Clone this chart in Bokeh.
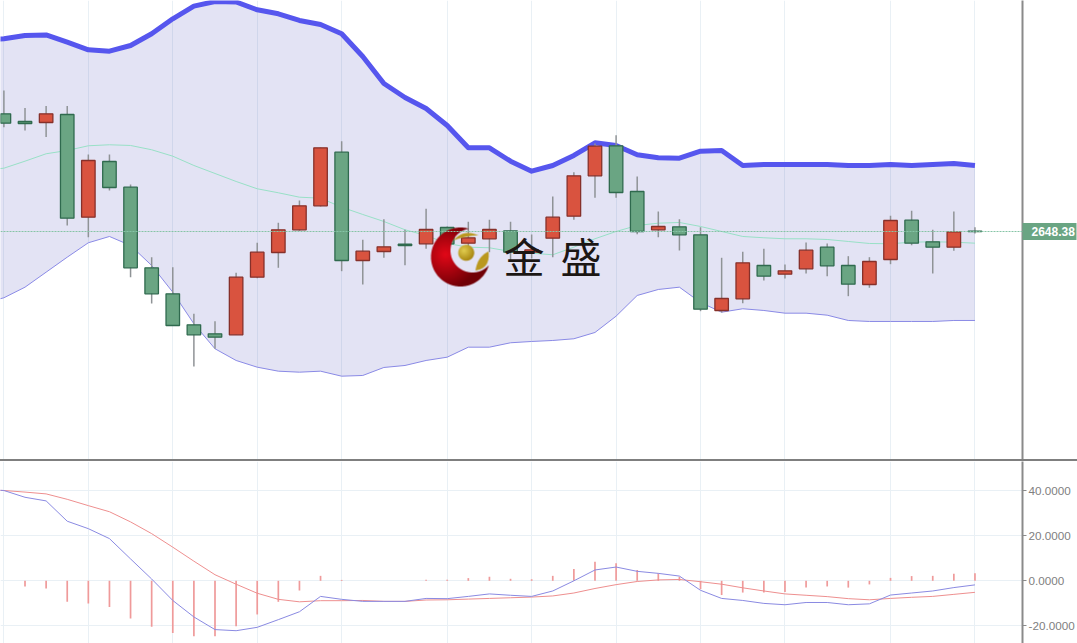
import numpy as np
from bokeh.embed import file_html
from bokeh.resources import INLINE
from bokeh.layouts import column
from bokeh.models import (ColumnDataSource, FixedTicker, LinearAxis, NumeralTickFormatter,
                          Range1d, Span)
from bokeh.plotting import figure

candle_index = list(range(47))
band_index = list(range(-1, 47))
open_ = [2766.1,2758.4,2757.4,2765.4,2662.7,2718.4,2692.7,2612.1,2586.1,2555.1,2546.1,2545.1,2602.7,2627.4,2650.1,2674.1,2727.7,2619.4,2628.4,2635.7,2636.1,2652.4,2636.7,2641.1,2649.1,2627.7,2641.7,2663.7,2704.1,2734.1,2688.4,2650.1,2653.1,2645.1,2569.4,2581.1,2614.4,2605.7,2611.1,2632.7,2614.4,2595.4,2620.4,2659.7,2638.1,2632.7,2648.8]
high = [2789.4,2771.9,2773.9,2773.9,2725.4,2725.4,2695.4,2622.7,2612.7,2566.1,2558.7,2607.1,2637.1,2657.1,2679.4,2732.4,2738.7,2640.1,2660.7,2650.1,2671.1,2653.4,2658.1,2660.1,2658.1,2645.4,2683.4,2707.7,2736.4,2744.7,2703.4,2668.4,2660.7,2652.7,2622.1,2628.1,2631.1,2615.4,2637.4,2636.4,2623.7,2622.7,2664.1,2669.1,2650.1,2668.4,2652.7]
low = [2752.7,2749.4,2742.9,2654.4,2642.7,2689.4,2602.7,2576.4,2554.4,2513.4,2531.1,2545.1,2601.7,2612.1,2649.1,2673.4,2608.7,2595.4,2622.1,2614.7,2631.1,2632.4,2623.4,2627.7,2619.4,2621.4,2622.7,2660.1,2682.1,2682.1,2645.7,2642.7,2629.4,2568.7,2567.4,2576.7,2599.4,2601.4,2606.4,2603.7,2583.7,2592.1,2615.7,2634.7,2606.4,2629.1,2646.4]
close = [2756.7,2756.4,2766.1,2661.7,2719.4,2692.4,2612.1,2586.1,2554.4,2545.1,2542.7,2602.7,2627.7,2650.1,2674.1,2732.1,2619.4,2628.7,2633.1,2634.4,2650.4,2636.1,2642.1,2650.4,2627.7,2630.1,2662.7,2704.1,2733.7,2687.4,2648.4,2653.4,2645.1,2570.7,2581.4,2617.1,2603.7,2609.1,2629.7,2614.1,2595.7,2618.4,2659.4,2636.7,2632.7,2648.1,2648.38]
upper = [2839.4,2841.1,2844.4,2844.9,2837.7,2830.1,2828.7,2834.4,2846.1,2861.1,2873.7,2878.4,2877.9,2870.1,2866.1,2859.4,2855.4,2846.1,2823.4,2796.4,2782.4,2771.4,2754.4,2732.1,2732.1,2718.7,2708.7,2714.4,2724.4,2737.1,2734.4,2725.1,2722.1,2721.7,2728.7,2729.4,2714.4,2715.4,2715.4,2715.4,2715.4,2714.4,2714.4,2715.4,2714.4,2715.4,2716.4,2714.4]
middle = [2709.4,2711.7,2718.7,2726.1,2729.4,2734.1,2735.1,2734.4,2730.1,2723.7,2714.4,2706.4,2698.4,2691.1,2687.1,2682.7,2681.7,2672.7,2665.4,2658.4,2650.1,2644.4,2636.4,2632.7,2632.1,2628.4,2626.7,2625.1,2632.7,2641.1,2648.4,2654.4,2656.7,2657.4,2653.4,2648.4,2643.4,2642.1,2641.1,2641.1,2640.4,2638.4,2636.4,2636.1,2637.7,2638.1,2637.7,2636.7]
lower = [2576.4,2582.1,2592.7,2607.7,2622.7,2637.1,2643.4,2634.4,2614.4,2587.7,2556.1,2531.1,2519.4,2512.7,2508.7,2507.7,2508.7,2503.7,2504.4,2512.4,2514.4,2519.4,2522.7,2532.7,2532.7,2537.1,2538.4,2539.4,2541.1,2547.4,2563.7,2584.4,2590.4,2592.7,2577.4,2567.7,2571.1,2569.4,2566.7,2566.7,2564.7,2559.4,2558.4,2558.4,2558.4,2558.4,2559.4,2559.4]
dif = [40.6,40.0,37.0,35.4,26.4,23.1,18.7,9.7,0.8,-8.7,-16.0,-21.6,-22.1,-20.6,-17.2,-13.7,-6.9,-8.2,-9.1,-9.1,-9.1,-7.8,-7.9,-6.9,-5.8,-6.4,-6.9,-4.5,0.0,4.8,6.1,4.2,3.3,2.1,-4.2,-7.8,-8.7,-10.0,-10.6,-9.6,-9.6,-10.6,-10.2,-6.3,-5.4,-4.5,-3.0,-1.8]
dea = [40.2,40.0,39.3,38.5,36.1,33.3,30.6,26.1,20.9,14.9,8.7,2.7,-1.5,-5.5,-8.2,-9.3,-8.8,-8.8,-8.7,-9.1,-9.1,-8.5,-8.4,-8.1,-7.8,-7.5,-7.2,-6.7,-5.4,-3.4,-1.7,-0.3,0.4,0.6,-0.4,-1.5,-3.1,-4.5,-5.8,-6.4,-7.0,-7.9,-8.4,-7.8,-7.3,-6.9,-6.0,-5.1]
hist = [0.0,-2.5,-3.4,-9.3,-10.1,-11.6,-16.7,-20.4,-23.1,-24.6,-24.6,-20.1,-14.9,-9.3,-4.3,2.2,0.4,0.0,0.0,0.0,0.5,0.5,1.2,1.8,0.9,0.7,2.2,5.2,8.5,7.8,4.8,3.3,1.8,-3.7,-6.3,-5.2,-5.2,-4.9,-3.0,-2.5,-3.0,-1.6,1.3,2.1,2.2,3.1,3.4]
grid_index = [0, 4, 8, 12, 16, 21, 25, 29, 33, 37, 42, 46]
macd_ticks = [40, 20, 0, -20]
last_price = 2648.38
last_label = "2648.38"

FW = 1022
PX0, PXS = 3.4, 21.11
X_RANGE = ((0 - PX0) / PXS, (FW - PX0) / PXS)
TOP = 2879.38
px = lambda a: (np.asarray(a, float) - PX0) / PXS
py = lambda a: TOP - np.asarray(a, float)

GREEN, RED = "#6aa583", "#d9533f"
GREEN_E, RED_E = "#2f6a4e", "#86302a"
AXIS = "#8a8a8a"
GRID = "#e9f0f5"

p1 = figure(frame_width=FW, frame_height=459, output_backend="svg", toolbar_location=None,
            x_range=Range1d(*X_RANGE), y_range=Range1d(TOP - 459, TOP),
            x_axis_location=None, y_axis_location=None,
            min_border_left=0, min_border_right=55, min_border_top=0, min_border_bottom=0,
            outline_line_color=None)
p1.xgrid.ticker = FixedTicker(ticks=grid_index)
p1.xgrid.grid_line_color = GRID
p1.ygrid.visible = False
# the last-price tag: one thick, long tick makes the green plate under its label
ax1 = LinearAxis(ticker=FixedTicker(ticks=[last_price]), major_label_overrides={last_price: last_label},
                 axis_line_color=AXIS, axis_line_width=2,
                 major_tick_line_color=GREEN, major_tick_line_width=17, major_tick_line_cap="butt",
                 major_tick_out=54, major_tick_in=0, minor_tick_line_color=None,
                 major_label_standoff=-45, major_label_text_color="#ffffff",
                 major_label_text_font="Liberation Sans", major_label_text_font_style="bold",
                 major_label_text_font_size="12px")
p1.add_layout(ax1, "right")

p1.varea(x=band_index, y1=lower, y2=upper, fill_color="#3c3cb4", fill_alpha=0.14)
p1.line(band_index, middle, line_color="#98e0c6", line_width=1)
p1.line(band_index, lower, line_color="#8a8ae6", line_width=1)
p1.line(band_index, upper, line_color="#5656ee", line_width=5, line_join="round")
p1.add_layout(Span(location=last_price, dimension="width", line_color="#86c4a6", line_width=1, line_dash="2 1"))

up = [c >= o for o, c in zip(open_, close)]
src = ColumnDataSource(dict(
    x=candle_index, high=high, low=low,
    top=[max(o, c) for o, c in zip(open_, close)],
    bottom=[min(o, c) for o, c in zip(open_, close)],
    fill=[RED if u else GREEN for u in up],
    edge=[RED_E if u else GREEN_E for u in up],
))
p1.segment("x", "high", "x", "low", source=src, line_color="#8f9396", line_width=1.5)
p1.vbar("x", 0.64, "top", "bottom", source=src, fill_color="fill", line_color="edge", line_width=1.3)


# watermark logo: crescent, ball and two leaves, antialiased by supersampling
def in_poly(X, Y, pts):
    inside = np.zeros_like(X, dtype=bool)
    n = len(pts)
    for a in range(n):
        x1, y1 = pts[a]
        x2, y2 = pts[(a + 1) % n]
        cond = (y1 > Y) != (y2 > Y)
        inside ^= cond & (X < (x2 - x1) * (Y - y1) / (y2 - y1 + 1e-12) + x1)
    return inside


def leaf(a, c1, b, c2):
    u = np.linspace(0, 1, 24)[:, None]
    a, b, c1, c2 = map(np.array, (a, b, c1, c2))
    e1 = (1 - u) ** 2 * a + 2 * u * (1 - u) * c1 + u ** 2 * b
    e2 = (1 - u) ** 2 * b + 2 * u * (1 - u) * c2 + u ** 2 * a
    return np.vstack([e1, e2])


L0, T0, LW, LH, SS = 428, 225, 64, 64, 4
gx = L0 + (np.arange(LW * SS) + 0.5) / SS
gy = T0 + (np.arange(LH * SS) + 0.5) / SS
X, Y = np.meshgrid(gx, gy)
rgba = np.zeros(X.shape + (4,), float)
crescent = ((X - 460) ** 2 + (Y - 256.5) ** 2 <= 29.5 ** 2) & ((X - 472) ** 2 + (Y - 250) ** 2 >= 22 ** 2)
d = np.clip(np.hypot(X - 445, Y - 254) / 34, 0, 1)[..., None]
rgba[crescent] = (np.array([226, 8, 24, 255.0]) * (1 - d) + np.array([112, 0, 6, 255.0]) * d)[crescent]
ball = (X - 465.7) ** 2 + (Y - 252.3) ** 2 <= 8 ** 2
db = np.clip(np.hypot(X - 463.5, Y - 250) / 11, 0, 1)[..., None]
rgba[ball] = (np.array([226, 205, 80, 255.0]) * (1 - db) + np.array([166, 132, 14, 255.0]) * db)[ball]
for pts in (leaf((453, 240), (463, 228), (478, 235), (466, 235)),
            leaf((475, 270), (490, 268), (488, 251), (477, 256))):
    rgba[in_poly(X, Y, pts)] = [186, 152, 30, 255.0]
rgb, alpha = rgba[..., :3], rgba[..., 3:] / 255
alpha_avg = alpha.reshape(LH, SS, LW, SS, 1).mean(axis=(1, 3))
rgb_avg = (rgb * alpha).reshape(LH, SS, LW, SS, 3).mean(axis=(1, 3)) / np.maximum(alpha_avg, 1e-6)
out = np.dstack([rgb_avg, alpha_avg * 255]).astype(np.uint8)[::-1]
logo = out[..., 0].astype(np.uint32) | (out[..., 1].astype(np.uint32) << 8) | \
    (out[..., 2].astype(np.uint32) << 16) | (out[..., 3].astype(np.uint32) << 24)
p1.image_rgba(image=[logo], x=[float(px(L0))], y=[float(py(T0 + LH))], dw=[LW / PXS], dh=[LH])
p1.text(px([503, 560]), py([254.5, 254.5]), text=["金", "盛"], text_font={"value": "Noto Sans CJK SC"},
        text_font_size="41px", text_color="#1c1714", text_baseline="middle", text_align="left")

p2 = figure(frame_width=FW, frame_height=182, output_backend="svg", toolbar_location=None,
            x_range=Range1d(*X_RANGE), y_range=Range1d(-28.65, 52.85),
            x_axis_location=None, y_axis_location=None,
            min_border_left=0, min_border_right=55, min_border_top=0, min_border_bottom=0,
            outline_line_color=None, styles={"border-top": "2px solid #7f7f7f"})
p2.xgrid.ticker = FixedTicker(ticks=grid_index)
p2.ygrid.ticker = FixedTicker(ticks=macd_ticks)
p2.xgrid.grid_line_color = GRID
p2.ygrid.grid_line_color = GRID
ax2 = LinearAxis(ticker=FixedTicker(ticks=macd_ticks), formatter=NumeralTickFormatter(format="0.0000"),
                 axis_line_color=AXIS, axis_line_width=2, major_tick_line_color=AXIS,
                 major_tick_out=4, major_tick_in=0, minor_tick_line_color=None,
                 major_label_standoff=2, major_label_text_color="#808080",
                 major_label_text_font="Liberation Sans", major_label_text_font_size="11.7px")
p2.add_layout(ax2, "right")
p2.segment(candle_index, [0] * len(hist), candle_index, hist, line_color="#ef9a9a", line_width=1.7)
p2.line(band_index, dea, line_color="#ee8f8f", line_width=1)
p2.line(band_index, dif, line_color="#8a8ae2", line_width=1)

root = column(p1, p2, spacing=0, styles={"position": "absolute", "left": "0px", "top": "0px"})
open("out.html", "w").write(file_html(root, INLINE))
